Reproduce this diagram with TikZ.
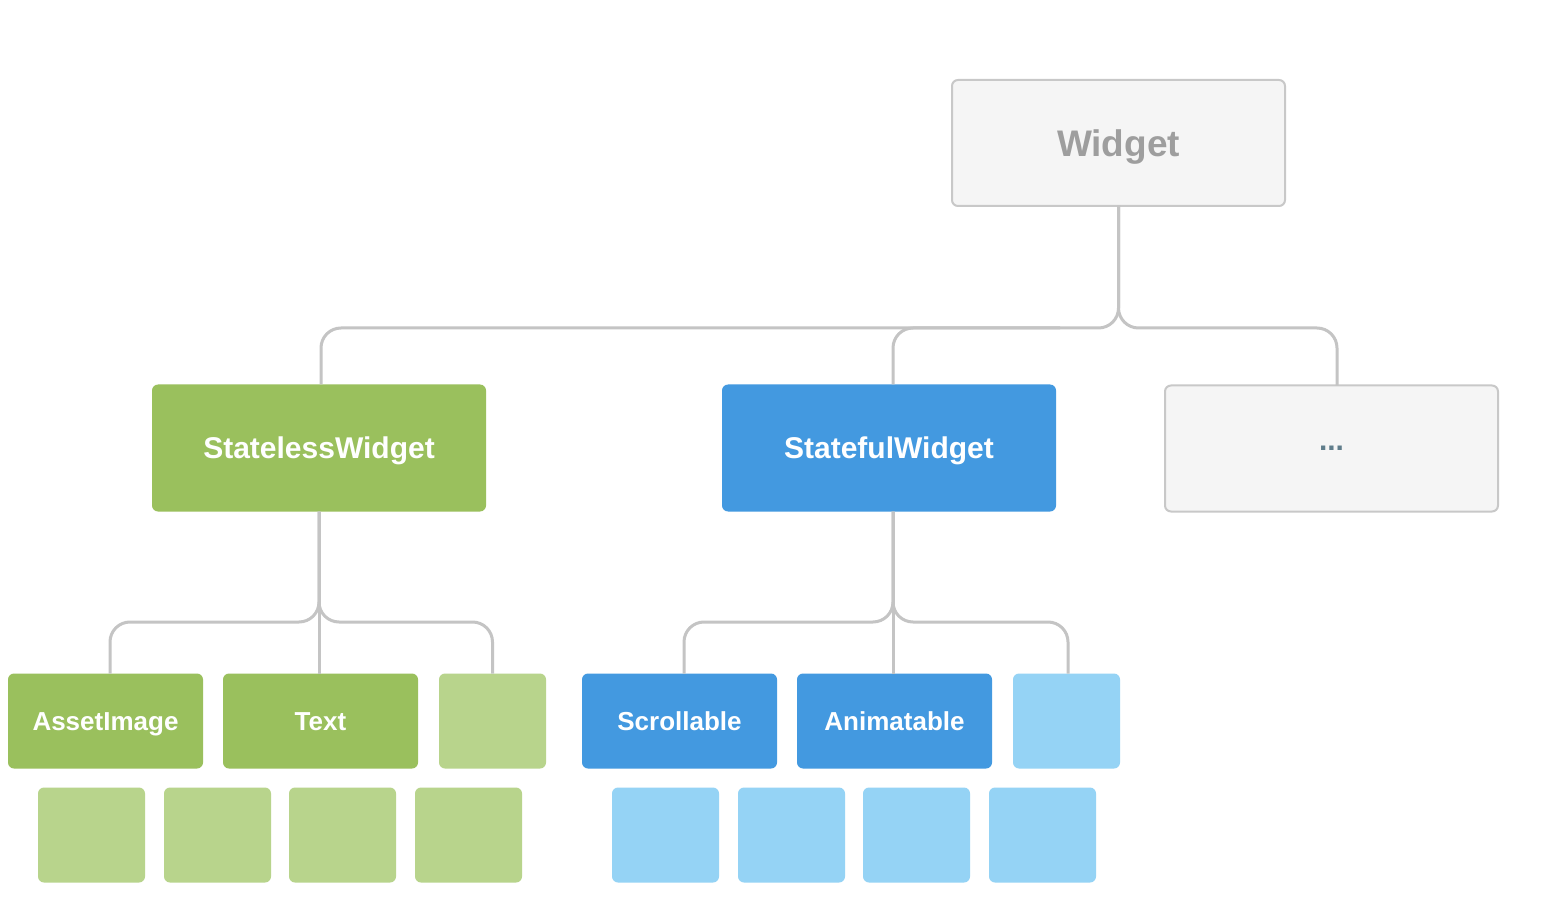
\documentclass[tikz,border=0pt]{standalone}
\usepackage{fontspec}
\setmainfont{Liberation Sans}
\definecolor{lineg}{HTML}{C4C4C4}
\definecolor{boxg}{HTML}{F5F5F5}
\definecolor{borderg}{HTML}{C8C8C8}
\definecolor{textg}{HTML}{9E9E9E}
\definecolor{dotc}{HTML}{607D8B}
\definecolor{grn}{HTML}{9AC05D}
\definecolor{lgrn}{HTML}{B8D48C}
\definecolor{blu}{HTML}{4399E0}
\definecolor{lblu}{HTML}{95D3F5}
\tikzset{
  base/.style={rounded corners=6pt, inner sep=0pt, outer sep=0pt, font=\bfseries},
  graybox/.style={base, fill=boxg, draw=borderg, line width=2pt, minimum width=333pt, minimum height=126pt},
  midgreen/.style={base, fill=grn, text=white, minimum width=334pt, minimum height=127pt, text height=21.5pt, text depth=0pt, font=\bfseries\fontsize{30}{34}\selectfont},
  midblue/.style={base, fill=blu, text=white, minimum width=334pt, minimum height=127pt, text height=21.5pt, text depth=0pt, font=\bfseries\fontsize{30}{34}\selectfont},
  leafgreen/.style={base, fill=grn, text=white, minimum width=195pt, minimum height=95pt, text height=18.6pt, text depth=0pt, font=\bfseries\fontsize{26}{30}\selectfont},
  leafblue/.style={base, fill=blu, text=white, minimum width=195pt, minimum height=95pt, text height=18.6pt, text depth=0pt, font=\bfseries\fontsize{26}{30}\selectfont},
  smallgreen/.style={base, fill=lgrn, minimum width=107pt, minimum height=95pt},
  smallblue/.style={base, fill=lblu, minimum width=107pt, minimum height=95pt},
  conn/.style={draw=lineg, line width=3pt, rounded corners=20pt},
}
\begin{document}
\begin{tikzpicture}[x=1pt,y=-1pt]
\useasboundingbox[fill=white] (0,0) rectangle (1559,909);
% top
\node[graybox, text=textg, text height=26.5pt, text depth=0pt, font=\bfseries\fontsize{37}{40}\selectfont] (W) at (1118.5,143) {Widget};
% middle
\node[midgreen] (S) at (319,448) {StatelessWidget};
\node[midblue] (F) at (889,448) {StatefulWidget};
\node[graybox, text=dotc, font=\bfseries\fontsize{30}{34}\selectfont] (D) at (1331.5,448.5) {...};
% leaves
\node[leafgreen] (A) at (105.5,721) {AssetImage};
\node[leafgreen] (T) at (320.5,721) {Text};
\node[smallgreen] (G3) at (492.5,721) {};
\node[leafblue] (Sc) at (679.5,721) {Scrollable};
\node[leafblue] (An) at (894.5,721) {Animatable};
\node[smallblue] (B3) at (1066.5,721) {};
% bottom row
\node[smallgreen] (g1) at (91.5,835) {};
\node[smallgreen] (g2) at (217.5,835) {};
\node[smallgreen] (g3) at (342.5,835) {};
\node[smallgreen] (g4) at (468.5,835) {};
\node[smallblue] (b1) at (665.5,835) {};
\node[smallblue] (b2) at (791.5,835) {};
\node[smallblue] (b3) at (916.5,835) {};
\node[smallblue] (b4) at (1042.5,835) {};
% buses
\coordinate (bus1) at (0,328);
\coordinate (bus2) at (0,622);
\coordinate (mid1) at (1060,328);
% connectors top
\draw[conn] (W.south) -- (W.south |- bus1) -- ([xshift=2pt]S.north |- bus1) -- ([xshift=2pt]S.north);
\draw[conn] (W.south) -- (W.south |- bus1) -- ([xshift=5.5pt]D.north |- bus1) -- ([xshift=5.5pt]D.north);
\draw[conn] (mid1) -- ([xshift=4pt]F.north |- bus1) -- ([xshift=4pt]F.north);
% connectors stateless
\draw[conn] (S.south) -- (S.south |- bus2) -- ([xshift=4.5pt]A.north |- bus2) -- ([xshift=4.5pt]A.north);
\draw[conn] (S.south) -- (S.south |- bus2) -- (G3.north |- bus2) -- (G3.north);
\draw[conn] (S.south) -- ([xshift=-1.5pt]T.north);
% connectors stateful
\draw[conn] ([xshift=4pt]F.south) -- ([xshift=4pt]F.south |- bus2) -- ([xshift=4.5pt]Sc.north |- bus2) -- ([xshift=4.5pt]Sc.north);
\draw[conn] ([xshift=4pt]F.south) -- ([xshift=4pt]F.south |- bus2) -- ([xshift=1.5pt]B3.north |- bus2) -- ([xshift=1.5pt]B3.north);
\draw[conn] ([xshift=4pt]F.south) -- ([xshift=-1.5pt]An.north);
\end{tikzpicture}
\end{document}
